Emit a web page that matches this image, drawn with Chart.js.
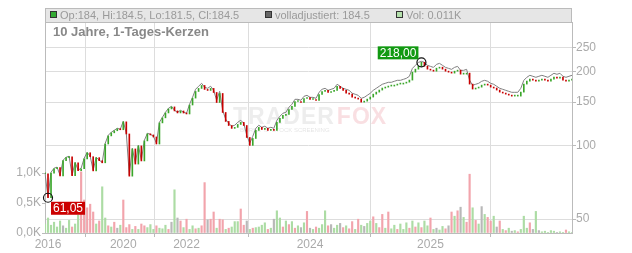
<html>
  <head>
    <script src="https://cdn.jsdelivr.net/npm/chart.js"></script>
    <meta charset="UTF-8" />
    <style>
      body { margin: 0; background: #fff; }
    </style>
  </head>
  <body>
    <canvas id="myChart" width="632" height="253"></canvas>
    <script>
      // fully adjusted close (grey line)
      const adjClose = [
        76.9, 61.3, 77.6, 80.6, 81.4, 75.5, 86.9, 89.3, 90.2, 75.5,
        85.2, 79.1, 80.6, 88.5, 93.6, 90.2, 79.1, 89.3, 86.9, 85.2,
        101.9, 109.8, 113.0, 115.1, 117.3, 116.2, 125.3, 111.9, 75.5, 97.2,
        84.4, 100.0, 86.9, 104.8, 111.9, 110.9, 108.8, 101.9, 124.1, 130.1,
        136.3, 141.5, 144.2, 138.9, 136.3, 138.9, 136.3, 135.1, 147.0, 156.9,
        169.2, 174.1, 179.0, 172.4, 170.8, 174.1, 167.6, 152.6, 166.0, 138.9,
        127.7, 122.9, 119.6, 120.7, 124.1, 126.5, 122.9, 109.8, 101.9, 108.8,
        117.3, 120.7, 118.4, 119.6, 117.3, 118.4, 117.3, 126.5, 131.3, 135.1,
        136.3, 142.9, 147.0, 154.0, 154.0, 152.6, 158.4, 159.9, 156.9, 156.9,
        155.4, 164.5, 169.2, 170.8, 167.6, 169.2, 170.8, 177.4, 174.1, 170.8,
        169.2, 167.6, 163.0, 161.5, 159.9, 155.4, 156.9, 159.9, 163.0, 167.6,
        170.8, 174.1, 177.4, 179.0, 180.7, 180.7, 182.4, 184.1, 184.1, 185.8,
        187.6, 191.2, 206.0, 211.9, 218.0, 220.0, 218.0, 211.9, 209.9, 207.9,
        213.9, 215.9, 211.9, 207.9, 206.0, 204.1, 207.9, 209.9, 202.2, 202.2,
        204.1, 184.1, 175.7, 177.4, 179.0, 182.4, 184.1, 182.4, 179.0, 177.4,
        174.1, 170.8, 169.2, 167.6, 166.0, 164.5, 164.5, 164.5, 170.8, 184.1,
        189.4, 193.0, 191.2, 189.4, 191.2, 193.0, 191.2, 189.4, 193.0, 196.7,
        194.8, 196.7, 191.2, 189.4, 191.2, 193.0
      ];

      // candle closes
      const candleClose = [
        76.5, 61.05, 77.0, 80.2, 81.0, 75.0, 86.5, 89.0, 89.8, 75.2,
        84.8, 78.8, 80.2, 88.0, 93.2, 89.8, 78.6, 89.0, 86.5, 84.8,
        101.2, 109.2, 112.4, 114.6, 116.8, 115.7, 124.6, 111.2, 74.8, 96.6,
        83.8, 99.4, 86.3, 104.2, 111.3, 110.2, 108.1, 101.2, 123.4, 129.4,
        135.5, 140.7, 143.4, 138.1, 135.5, 138.0, 135.4, 134.2, 146.0, 155.8,
        165.8, 170.6, 175.4, 169.0, 167.4, 170.6, 164.2, 149.5, 162.7, 136.1,
        125.1, 120.4, 117.2, 118.3, 121.6, 124.0, 120.4, 107.6, 99.9, 106.6,
        115.0, 118.3, 116.0, 117.2, 115.0, 116.0, 115.0, 124.0, 128.7, 132.4,
        133.6, 140.0, 144.1, 150.9, 150.9, 149.5, 155.2, 156.7, 153.8, 153.8,
        152.3, 161.2, 165.8, 167.4, 164.2, 165.8, 167.4, 173.9, 170.6, 167.4,
        163.3, 161.7, 157.3, 155.8, 154.3, 150.0, 151.4, 154.3, 157.3, 161.7,
        164.8, 168.0, 171.2, 172.7, 174.4, 174.4, 176.0, 177.7, 177.7, 179.3,
        181.0, 184.5, 198.8, 204.5, 210.4, 218.0, 210.4, 204.5, 202.6, 200.6,
        206.4, 208.3, 204.5, 200.6, 198.8, 197.0, 200.6, 202.6, 195.1, 195.1,
        197.0, 177.7, 169.6, 171.2, 172.7, 176.0, 177.7, 176.0, 172.7, 171.2,
        168.0, 164.8, 163.3, 161.7, 160.2, 158.7, 158.7, 158.7, 164.8, 177.7,
        182.8, 186.2, 184.5, 182.8, 184.5, 186.2, 184.5, 182.8, 186.2, 189.8,
        188.0, 189.8, 184.5, 182.8, 184.5, 184.5
      ];

      // volume (shares)
      const volume = [
        150, 250, 130, 180, 100, 200, 120, 80, 210, 100,
        150, 300, 1020, 550, 420, 480, 350, 150, 200, 770,
        250, 120, 100, 180, 80, 130, 550, 90, 140, 60,
        110, 60, 150, 120, 90, 140, 60, 120, 80, 70,
        130, 60, 180, 720, 250, 200, 90, 230, 60, 120,
        70, 80, 120, 840, 220, 230, 350, 80, 230, 220,
        60, 80, 100, 190, 190, 400, 130, 200, 60, 80,
        90, 100, 130, 170, 60, 80, 230, 370, 250, 100,
        200, 140, 190, 80, 120, 90, 170, 360, 80, 60,
        100, 80, 140, 370, 120, 140, 80, 130, 160, 90,
        120, 70, 190, 60, 230, 130, 110, 160, 200, 270,
        160, 90, 310, 80, 350, 70, 130, 60, 150, 60,
        170, 80, 200, 100, 170, 90, 200, 120, 250, 60,
        80, 50, 110, 70, 120, 350, 280, 370, 430, 260,
        180, 980, 420, 210, 150, 440, 310, 260, 200, 280,
        100, 200, 60, 40, 80, 30, 40, 20, 60, 280,
        80, 170, 60, 360, 40, 20, 30, 10, 40, 30,
        10, 20, 10, 50, 20, 11
      ];

      // volume bar direction: g = up, r = down, n = unchanged
      const volumeDir = (
        "ggggggnggr" + "ggrrrrrgrg" + "grgrngrrrg" + "rgrrgggrgg" + "grngnrgrgg" +
        "rgrrnrrgrr" + "grgggrrngr" + "ggggrgnggr" + "grgrgngrng" + "rgggrnggnr" +
        "grrgrgnggr" + "grrgrggrgg" + "grgrgrggrg" + "nggrnrgrng" + "rrgrgngrrg" +
        "nrgrgngrgg" + "grngnggggg" + "nggrgg"
      ).split("");

      const yearTickIndex = [1, 26, 47, 88, 128];
      const yearTickLabel = ["2016", "2020", "2022", "2024", "2025"];
      const priceTicks = [50, 100, 150, 200, 250];
      const volumeTicks = [0, 500, 1000];

      const lowIndex = 1;
      const lowValue = 61.05;
      const highIndex = 125;
      const highValue = 218.0;

      const FONT = "'Liberation Sans', Arial, sans-serif";
      const volColors = { g: "#acdca4", r: "#f2a4ac", n: "#b8b8b8" };

      const labels = adjClose.map((_, i) => i);

      const candleData = candleClose.map((c, i) => [i ? candleClose[i - 1] : c, c]);
      const candleColors = candleClose.map((c, i) =>
        i && c < candleClose[i - 1] ? "#c80000" : "#3aa62a"
      );

      const headerPlugin = {
        id: "header",
        beforeDatasetsDraw(chart) {
          // faint watermark
          const ctx = chart.ctx;
          ctx.save();
          ctx.font = "bold 23px " + FONT;
          ctx.letterSpacing = "1px";
          ctx.textBaseline = "alphabetic";
          ctx.fillStyle = "rgba(190,190,190,0.28)";
          ctx.fillText("TRADER", 233, 124);
          const w = ctx.measureText("TRADER").width;
          ctx.fillStyle = "rgba(235,140,150,0.28)";
          ctx.fillText("FOX", 233 + w + 2, 124);
          ctx.letterSpacing = "0px";
          ctx.font = "6px " + FONT;
          ctx.fillStyle = "rgba(190,190,190,0.4)";
          ctx.fillText("BÖRSE  &  STOCK SCREENING", 240, 132);
          ctx.restore();
        },
        afterDraw(chart) {
          const ctx = chart.ctx;
          const a = chart.chartArea;
          ctx.save();
          ctx.fillStyle = "#e6e6e6";
          ctx.fillRect(a.left, 8, a.right - a.left, 14);
          ctx.strokeStyle = "#bbbbbb";
          ctx.lineWidth = 1;
          ctx.strokeRect(a.left + 0.5, 8.5, a.right - a.left - 1, 14);

          const items = [
            [50, "#33aa33", "Op:184, Hi:184.5, Lo:181.5, Cl:184.5"],
            [265, "#666666", "volladjustiert: 184.5"],
            [396, "#b4e0ac", "Vol: 0.011K"],
          ];
          ctx.font = "11px " + FONT;
          ctx.textBaseline = "middle";
          items.forEach(([x, col, txt]) => {
            ctx.fillStyle = col;
            ctx.fillRect(x, 11, 7, 7);
            ctx.strokeStyle = "#333";
            ctx.strokeRect(x + 0.5, 11.5, 6, 6);
            ctx.fillStyle = "#9a9a9a";
            ctx.fillText(txt, x + 10, 15.5);
          });

          ctx.font = "bold 13px " + FONT;
          ctx.fillStyle = "#888";
          ctx.fillText("10 Jahre, 1-Tages-Kerzen", 53, 32);
          ctx.restore();
        },
        afterDatasetsDraw(chart) {
          const ctx = chart.ctx;
          const xs = chart.scales.x;
          const ys = chart.scales.yPrice;
          const fmt = v => v.toFixed(2).replace(".", ",");
          const mark = (idx, val, color, below) => {
            const px = xs.getPixelForValue(idx);
            const py = ys.getPixelForValue(val);
            ctx.save();
            ctx.beginPath();
            ctx.arc(px, py, 4.5, 0, Math.PI * 2);
            ctx.strokeStyle = "#111";
            ctx.lineWidth = 1.2;
            ctx.stroke();
            ctx.font = "12px " + FONT;
            const txt = fmt(val);
            const tw = ctx.measureText(txt).width + 4;
            const bx = below ? px + 3 : px - 3 - tw;
            const by = below ? py + 4 : py - 3 - 13;
            ctx.fillStyle = color;
            ctx.fillRect(bx, by, tw, 13);
            ctx.fillStyle = "#fff";
            ctx.textBaseline = "middle";
            ctx.fillText(txt, bx + 2, by + 7);
            ctx.restore();
          };
          mark(lowIndex, lowValue, "#cc0000", true);
          mark(highIndex, highValue, "#119911", false);
        },
      };

      const config = {
        type: "bar",
        data: {
          labels,
          datasets: [
            {
              label: "Kerzen",
              data: candleData,
              yAxisID: "yPrice",
              backgroundColor: candleColors,
              barThickness: 1,
              minBarLength: 1,
              grouped: false,
              order: 1,
            },
            {
              type: "line",
              label: "volladjustiert",
              data: adjClose,
              yAxisID: "yPrice",
              borderColor: "#808080",
              borderWidth: 1,
              pointRadius: 0,
              tension: 0,
              order: 2,
            },
            {
              label: "Vol",
              data: volume,
              yAxisID: "yVol",
              backgroundColor: volumeDir.map(d => volColors[d]),
              barThickness: 1.5,
              grouped: false,
              order: 3,
            },
          ],
        },
        options: {
          responsive: false,
          animation: false,
          devicePixelRatio: 1,
          layout: { padding: { top: 22, left: 0, right: 0, bottom: 0 } },
          plugins: {
            legend: { display: false },
            tooltip: { enabled: false },
          },
          scales: {
            x: {
              type: "category",
              offset: false,
              afterFit: s => { s.height = 20; },
              border: { color: "#bbbbbb" },
              grid: { color: "#dddddd", tickLength: 4, tickColor: "#bbbbbb" },
              ticks: {
                autoSkip: false,
                maxRotation: 0,
                padding: 0,
                color: "#aaaaaa",
                font: { family: FONT, size: 12 },
                callback: (v, i) => {
                  const k = yearTickIndex.indexOf(i);
                  return k >= 0 ? yearTickLabel[k] : null;
                },
              },
            },
            yVol: {
              type: "linear",
              position: "left",
              min: 0,
              max: 3517,
              afterFit: s => { s.width = 45; },
              afterBuildTicks: s => { s.ticks = volumeTicks.map(v => ({ value: v })); },
              border: { color: "#bbbbbb" },
              grid: { drawOnChartArea: false, tickLength: 3, color: "#bbbbbb" },
              ticks: {
                padding: 1,
                color: "#aaaaaa",
                font: { family: FONT, size: 12 },
                callback: v => (v / 1000).toFixed(1).replace(".", ",") + "K",
              },
            },
            yPrice: {
              type: "logarithmic",
              position: "right",
              min: 43.84,
              max: 318.5,
              afterFit: s => { s.width = 60; },
              afterBuildTicks: s => { s.ticks = priceTicks.map(v => ({ value: v })); },
              border: { color: "#bbbbbb" },
              grid: { color: "#dddddd", tickLength: 4, tickColor: "#bbbbbb" },
              ticks: {
                padding: 0,
                color: "#aaaaaa",
                font: { family: FONT, size: 12 },
                callback: v => String(v),
              },
            },
          },
        },
        plugins: [headerPlugin],
      };

      new Chart(document.getElementById("myChart"), config);
    </script>
  </body>
</html>
